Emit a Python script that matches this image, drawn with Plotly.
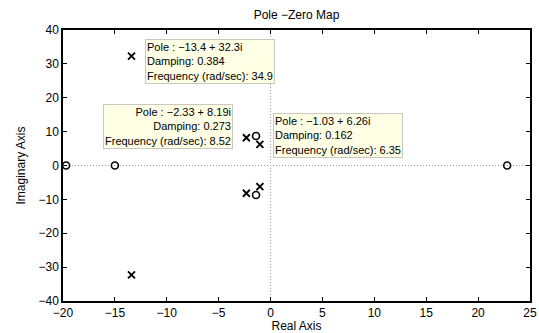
import plotly.graph_objects as go

pole_re = [-13.4, -13.4, -2.33, -2.33, -1.03, -1.03]
pole_im = [32.3, -32.3, 8.19, -8.19, 6.26, -6.26]
zero_re = [-19.7, -15.0, 22.8, -1.4, -1.4]
zero_im = [0.0, 0.0, 0.0, 8.7, -8.7]

tip_pole = ["−13.4 + 32.3i", "−2.33 + 8.19i", "−1.03 + 6.26i"]
tip_damping = ["0.384", "0.273", "0.162"]
tip_freq = ["34.9", "8.52", "6.35"]

x_ticks = [-20, -15, -10, -5, 0, 5, 10, 15, 20, 25]
y_ticks = [-40, -30, -20, -10, 0, 10, 20, 30, 40]

font = "Liberation Sans, Arial, Helvetica, sans-serif"

fig = go.Figure()
fig.add_trace(go.Scatter(x=pole_re, y=pole_im, mode="markers",
                         marker=dict(symbol="x-thin", size=7, color="black",
                                     line=dict(width=1.8, color="black")),
                         showlegend=False))
fig.add_trace(go.Scatter(x=zero_re, y=zero_im, mode="markers",
                         marker=dict(symbol="circle-open", size=7, color="black",
                                     line=dict(width=1.6, color="black")),
                         showlegend=False))

# dotted axes lines
fig.add_shape(type="line", x0=-20, x1=25, y0=0, y1=0, xref="x", yref="y",
              line=dict(color="#999999", width=1, dash="1px,2px"), layer="below")
fig.add_shape(type="line", x0=0, x1=0, y0=-40, y1=40, xref="x", yref="y",
              line=dict(color="#999999", width=1, dash="1px,2px"), layer="below")

# data tips
tip_pos = [(-12.1, 37.2, "left"), (-3.62, 18.3, "right"), (0.23, 15.6, "left")]
for i, (tx, ty, anc) in enumerate(tip_pos):
    txt = ("Pole : " + tip_pole[i] + "<br>Damping: " + tip_damping[i] +
           "<br>Frequency (rad/sec): " + tip_freq[i])
    fig.add_annotation(x=tx, y=ty, xref="x", yref="y", text=txt, showarrow=False,
                       xanchor=anc, yanchor="top", align=anc,
                       bgcolor="#ffffe6", bordercolor="#c8c8c0", borderwidth=1,
                       borderpad=1, font=dict(family=font, size=11, color="black"))

axis_common = dict(showgrid=False, zeroline=False, showline=True, linecolor="black",
                   linewidth=1.5, mirror="ticks", ticks="inside", ticklen=4,
                   automargin=False,
                   tickcolor="black", tickfont=dict(family=font, size=12, color="black"))

fig.update_layout(
    width=539, height=333,
    margin=dict(l=63, r=9, t=30, b=32),
    paper_bgcolor="white", plot_bgcolor="white",
    title=dict(text="Pole −Zero Map", x=(63 + 530) / 2 / 539, xanchor="center",
               y=1 - 15 / 333, yanchor="middle",
               font=dict(family=font, size=12, color="black")),
    xaxis=dict(range=[-20, 25], tickvals=x_ticks,
               title=dict(text="Real Axis", standoff=2,
                          font=dict(family=font, size=12, color="black")),
               **axis_common),
    yaxis=dict(range=[-40, 40], tickvals=y_ticks,
               title=dict(text="Imaginary Axis", standoff=10,
                          font=dict(family=font, size=12, color="black")),
               **axis_common),
)

fig.write_html("out.html")
